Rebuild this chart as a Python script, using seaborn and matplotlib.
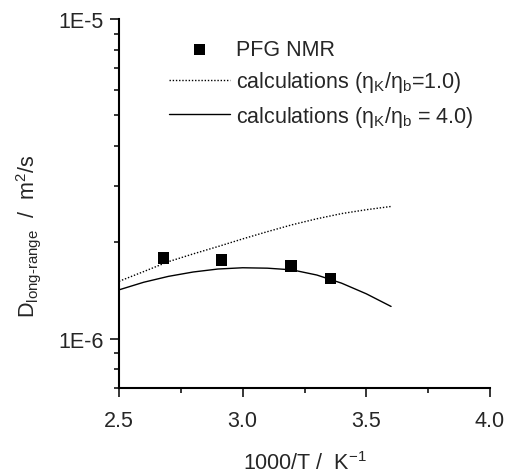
import numpy as np
import pandas as pd
import matplotlib
matplotlib.use("Agg")
import matplotlib.pyplot as plt
import matplotlib.ticker as mticker
import seaborn as sns

# PFG NMR measurements
nmr_x = [2.68, 2.915, 3.195, 3.355]
nmr_d = [1.79e-6, 1.76e-6, 1.685e-6, 1.54e-6]

# calculations, eta_K/eta_b = 1.0
calc1_x = [2.5, 2.6, 2.7, 2.8, 2.9, 3.0, 3.1, 3.2, 3.3, 3.4, 3.5, 3.6]
calc1_d = [1.51e-6, 1.62e-6, 1.74e-6, 1.84e-6, 1.94e-6, 2.05e-6,
           2.16e-6, 2.27e-6, 2.37e-6, 2.46e-6, 2.53e-6, 2.59e-6]

# calculations, eta_K/eta_b = 4.0
calc4_x = [2.5, 2.6, 2.7, 2.8, 2.9, 3.0, 3.1, 3.2, 3.3, 3.4, 3.5, 3.6]
calc4_d = [1.42e-6, 1.50e-6, 1.565e-6, 1.615e-6, 1.65e-6, 1.665e-6,
           1.66e-6, 1.64e-6, 1.58e-6, 1.49e-6, 1.38e-6, 1.26e-6]

sns.set_style("ticks")
plt.rcParams["font.family"] = ["Liberation Sans", "DejaVu Sans"]
plt.rcParams["mathtext.fontset"] = "custom"
plt.rcParams["mathtext.rm"] = "Liberation Sans"
plt.rcParams["mathtext.it"] = "Liberation Sans"
plt.rcParams["mathtext.bf"] = "Liberation Sans:bold"

FS = 15.5

fig = plt.figure(figsize=(5.09, 4.77), dpi=100)
ax = fig.add_axes([119 / 509, 1 - 389 / 477, 371 / 509, 369 / 477])

lbl_nmr = "PFG NMR"
lbl_c1 = r"calculations ($\mathregular{\eta_K/\eta_b}$=1.0)"
lbl_c4 = r"calculations ($\mathregular{\eta_K/\eta_b}$ = 4.0)"

sns.lineplot(x=calc1_x, y=calc1_d, ax=ax, color="black", lw=1.0,
             linestyle=(0, (1, 1.3)), label=lbl_c1, sort=False)
sns.lineplot(x=calc4_x, y=calc4_d, ax=ax, color="black", lw=1.0,
             label=lbl_c4, sort=False)
sns.scatterplot(x=nmr_x, y=nmr_d, ax=ax, marker="s", s=70, color="black",
                edgecolor="none", label=lbl_nmr, zorder=5)

ax.set_yscale("log")
ax.set_xlim(2.5, 4.0)
ax.set_ylim(7e-7, 1e-5)

ax.xaxis.set_major_locator(mticker.MultipleLocator(0.5))
ax.xaxis.set_minor_locator(mticker.MultipleLocator(0.25))
ax.xaxis.set_major_formatter(mticker.FormatStrFormatter("%.1f"))
ax.yaxis.set_major_locator(mticker.LogLocator(base=10, numticks=10))
ax.yaxis.set_minor_locator(mticker.LogLocator(base=10, subs=np.arange(2, 10), numticks=20))
ax.yaxis.set_major_formatter(mticker.FuncFormatter(lambda v, p: "1E%d" % round(np.log10(v))))
ax.yaxis.set_minor_formatter(mticker.NullFormatter())

ax.tick_params(which="major", direction="out", length=6.5, width=1.1,
               labelsize=FS, pad=4.5, color="black")
ax.tick_params(which="minor", direction="out", length=3.6, width=1.1, color="black")
ax.tick_params(axis="x", which="major", pad=9)

sns.despine(ax=ax)
for s in ["left", "bottom"]:
    ax.spines[s].set_linewidth(1.5)
    ax.spines[s].set_color("black")

ax.set_xlabel(r"1000/T /  K$^{\mathregular{-1}}$", fontsize=FS)
ax.xaxis.set_label_coords(0.5, (389 - 475) / 369)
ax.xaxis.label.set_va("bottom")
ax.set_ylabel(r"D$_{\mathregular{long\text{-}range}}$  /  m$^{\mathregular{2}}$/s",
              fontsize=FS)
ax.yaxis.set_label_coords((43 - 119) / 371, (389 - 236) / 369)

handles, labels = ax.get_legend_handles_labels()
order = [labels.index(lbl_nmr), labels.index(lbl_c1), labels.index(lbl_c4)]
ax.legend([handles[i] for i in order], [labels[i] for i in order],
          loc="upper left", bbox_to_anchor=(169 / 509, 1 - 40 / 477),
          bbox_transform=fig.transFigure, frameon=False, fontsize=FS,
          handlelength=2.84, handletextpad=0.28, borderpad=0, borderaxespad=0,
          labelspacing=0.44)

fig.savefig("out.png", dpi=100)
